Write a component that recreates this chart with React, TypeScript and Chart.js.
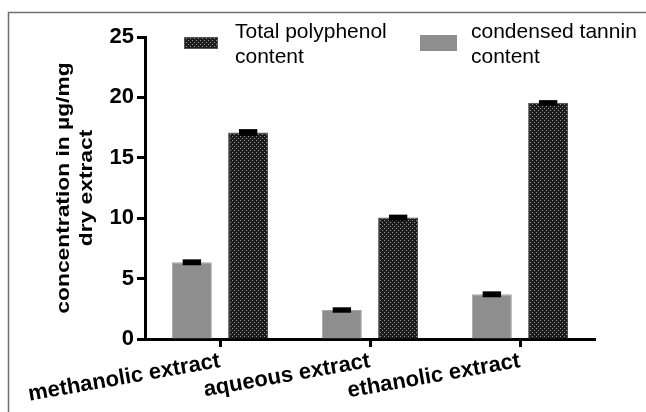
import React, { useEffect, useRef } from 'react';
import { Chart, registerables } from 'chart.js';

Chart.register(...registerables);

const categories = ['methanolic extract', 'aqueous extract', 'ethanolic extract'];
const tanninValues = [6.35, 2.4, 3.7];
const tanninErrors = [0.12, 0.1, 0.12];
const polyphenolValues = [17.1, 10.05, 19.55];
const polyphenolErrors = [0.15, 0.12, 0.1];
const yMin = 0;
const yMax = 25;
const yStep = 5;
const polyphenolLegend = ['Total polyphenol', 'content'];
const tanninLegend = ['condensed tannin', 'content'];
const yTitle = ['concentration in µg/mg', 'dry extract'];

const FONT = "'Liberation Sans', Arial, Helvetica, sans-serif";

function makePattern(ctx: CanvasRenderingContext2D): CanvasPattern | string {
  const c = document.createElement('canvas');
  c.width = 4;
  c.height = 4;
  const g = c.getContext('2d');
  if (!g) return '#222';
  g.fillStyle = '#1c1c1c';
  g.fillRect(0, 0, 4, 4);
  g.fillStyle = '#969696';
  g.fillRect(0, 0, 1, 1);
  g.fillRect(2, 2, 1, 1);
  return ctx.createPattern(c, 'repeat') || '#222';
}

const framePlugin = {
  id: 'frame',
  beforeDraw(chart: any) {
    const ctx = chart.ctx;
    ctx.save();
    ctx.fillStyle = '#fff';
    ctx.fillRect(0, 0, chart.width, chart.height);
    ctx.strokeStyle = '#707070';
    ctx.lineWidth = 1.5;
    ctx.beginPath();
    ctx.moveTo(chart.width, 12.5);
    ctx.lineTo(8.5, 12.5);
    ctx.lineTo(8.5, chart.height);
    ctx.stroke();
    ctx.restore();
  },
};

const errorBarPlugin = {
  id: 'errorBars',
  afterDatasetsDraw(chart: any) {
    const ctx = chart.ctx;
    const y = chart.scales.y;
    chart.data.datasets.forEach((ds: any, i: number) => {
      const meta = chart.getDatasetMeta(i);
      meta.data.forEach((bar: any, j: number) => {
        const v = ds.data[j];
        const e = ds.errors[j];
        const yTop = y.getPixelForValue(v + e);
        const yBot = y.getPixelForValue(v - e);
        const half = bar.width * 0.23;
        ctx.save();
        ctx.fillStyle = '#000';
        ctx.fillRect(bar.x - half, yTop - 1.5, 2 * half, yBot - yTop + 3);
        ctx.restore();
      });
    });
  },
};

const titlePlugin = {
  id: 'stretchedTitle',
  afterDraw(chart: any) {
    const ctx = chart.ctx;
    const area = chart.chartArea;
    const cy = (area.top + area.bottom) / 2;
    const xs = [64, 87];
    ctx.save();
    ctx.fillStyle = '#000';
    ctx.font = `bold 19px ${FONT}`;
    ctx.textAlign = 'center';
    ctx.textBaseline = 'middle';
    yTitle.forEach((t, k) => {
      ctx.save();
      ctx.translate(xs[k], cy);
      ctx.rotate(-Math.PI / 2);
      ctx.scale(1.2, 1);
      ctx.fillText(t, 0, 0);
      ctx.restore();
    });
    ctx.restore();
  },
};

const legendPlugin = {
  id: 'customLegend',
  afterDraw(chart: any) {
    const ctx = chart.ctx;
    const ds = chart.data.datasets;
    ctx.save();
    ctx.fillStyle = ds[1].backgroundColor;
    ctx.fillRect(184, 37, 34, 12);
    ctx.strokeStyle = '#555';
    ctx.lineWidth = 1;
    ctx.strokeRect(184.5, 37.5, 33, 11);
    ctx.fillStyle = ds[0].backgroundColor;
    ctx.fillRect(420, 35, 37, 16);
    ctx.fillStyle = '#000';
    ctx.font = `21px ${FONT}`;
    ctx.textBaseline = 'alphabetic';
    ctx.textAlign = 'left';
    ds[1].legendText.forEach((t: string, k: number) => ctx.fillText(t, 235, 38 + k * 25));
    ds[0].legendText.forEach((t: string, k: number) => ctx.fillText(t, 471, 38 + k * 25));
    ctx.restore();
  },
};

export default function App() {
  const ref = useRef<HTMLCanvasElement>(null);
  useEffect(() => {
    const canvas = ref.current;
    if (!canvas) return;
    const ctx = canvas.getContext('2d') as CanvasRenderingContext2D;
    const pattern = makePattern(ctx);
    const chart = new Chart(canvas, {
      type: 'bar',
      data: {
        labels: categories,
        datasets: [
          {
            label: tanninLegend.join(' '),
            data: tanninValues,
            errors: tanninErrors,
            legendText: tanninLegend,
            backgroundColor: '#8e8e8e',
            borderColor: '#a8a8a8',
            borderWidth: 1,
            barPercentage: 0.71,
            categoryPercentage: 0.75,
          } as any,
          {
            label: polyphenolLegend.join(' '),
            data: polyphenolValues,
            errors: polyphenolErrors,
            legendText: polyphenolLegend,
            backgroundColor: pattern,
            borderColor: '#444',
            borderWidth: 1,
            barPercentage: 0.71,
            categoryPercentage: 0.75,
          } as any,
        ],
      },
      options: {
        animation: false,
        responsive: true,
        maintainAspectRatio: false,
        layout: { padding: { left: 0, right: 51, top: 37, bottom: 0 } },
        plugins: { legend: { display: false }, tooltip: { enabled: false } },
        scales: {
          x: {
            grid: { display: true, drawOnChartArea: false, offset: false, tickLength: 8, tickWidth: 3, color: '#000' },
            border: { display: true, color: '#000', width: 3 },
            ticks: {
              color: '#000',
              font: { family: FONT, size: 22, weight: 'bold' },
              minRotation: 10,
              maxRotation: 10,
              autoSkip: false,
              padding: 1,
            },
            afterFit: (s: any) => {
              s.height = 73;
            },
          },
          y: {
            min: yMin,
            max: yMax,
            ticks: {
              stepSize: yStep,
              color: '#000',
              font: { family: FONT, size: 22, weight: 'bold' },
              padding: 3,
            },
            grid: { display: true, drawOnChartArea: false, tickLength: 8, tickWidth: 3, color: '#000' },
            border: { display: true, color: '#000', width: 3 },
            afterFit: (s: any) => {
              s.width = 145;
            },
          },
        },
      } as any,
      plugins: [framePlugin, errorBarPlugin, titlePlugin, legendPlugin],
    });
    return () => chart.destroy();
  }, []);
  return (
    <div style={{ position: 'fixed', left: 0, top: 0, width: 646, height: 412 }}>
      <canvas ref={ref} />
    </div>
  );
}
